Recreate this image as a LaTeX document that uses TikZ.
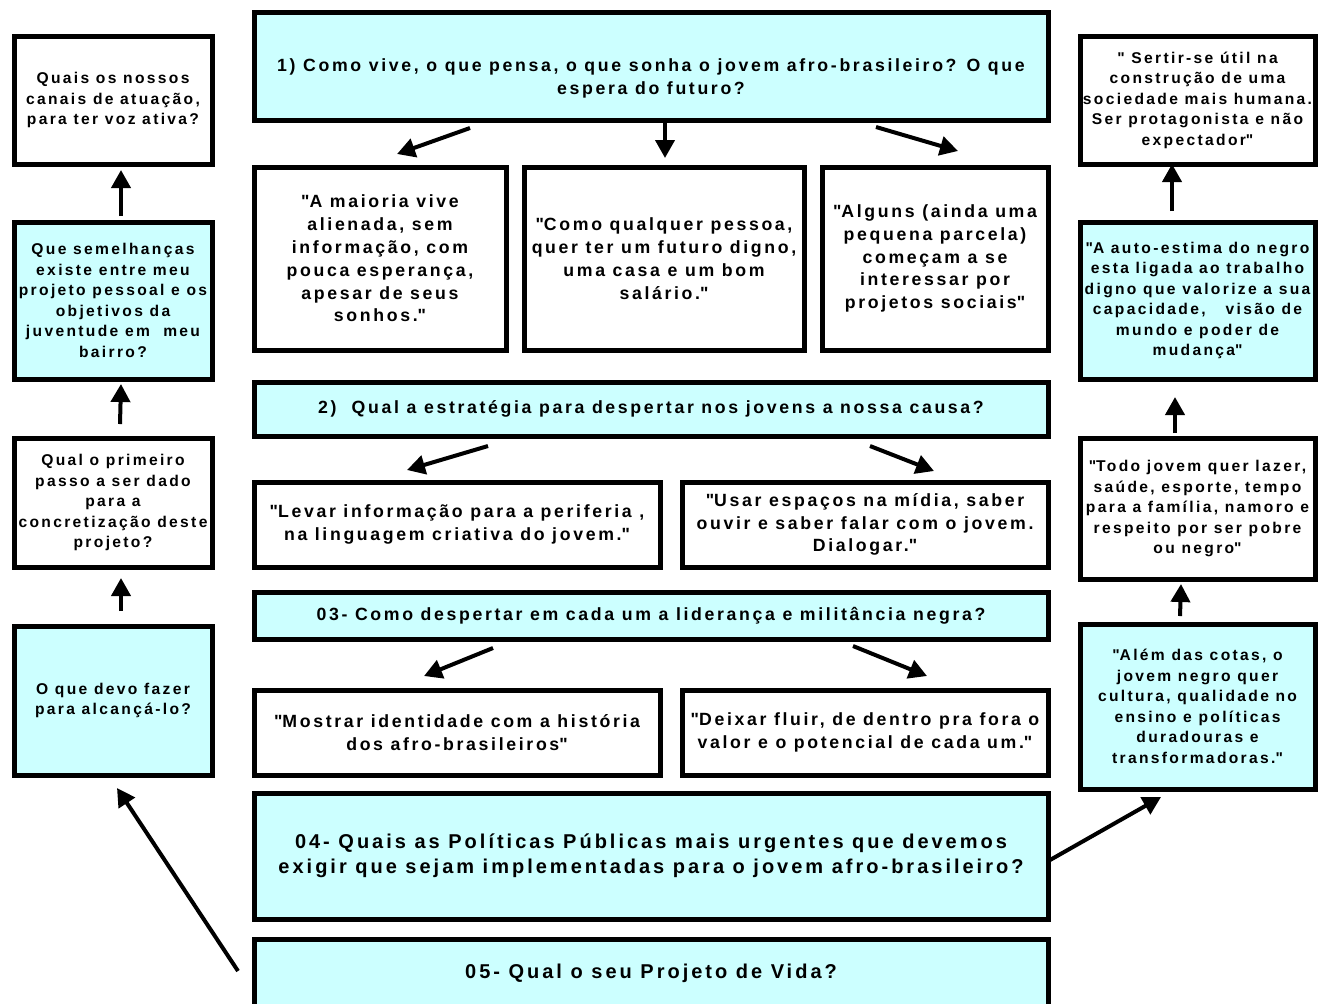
\documentclass[tikz,border=0pt]{standalone}
\usepackage{fontspec}
\setmainfont[LetterSpace=15]{Liberation Sans}
\usetikzlibrary{arrows.meta}
\definecolor{lcyan}{HTML}{CCFFFF}
\newcommand\bx[7]{\node[#2, minimum width=#5*0.5pt, minimum height=#6*0.5pt] (#1) at (#3,#4) {#7};}
\newcommand\sidefont{\bfseries\fontsize{7.8pt}{10.25pt}\selectfont}
\newcommand\cenfont{\bfseries\fontsize{8.85pt}{11.4pt}\selectfont}
\newcommand\bigfont{\bfseries\fontsize{10pt}{12.5pt}\selectfont}
\newcommand\qq{\textquotedbl}
\begin{document}
\begin{tikzpicture}[x=0.5pt,y=-0.5pt,
  base/.style={draw=black, line width=2.5pt, rectangle, inner sep=0pt, outer sep=0pt, align=center},
  wbox/.style={base, fill=white},
  cbox/.style={base, fill=lcyan},
  side/.style={font=\sidefont},
  cen/.style={font=\cenfont},
  big/.style={font=\bigfont},
  arr/.style={line width=2pt, -{Triangle[length=9pt,width=9.5pt]}},
  txt/.style={inner sep=0pt, align=center}]
\useasboundingbox (0,0) rectangle (1320,1003);
\fill[white] (0,0) rectangle (1320,1003);
% centre column
\bx{q1}{cbox}{651}{66}{794}{108}{}
\node[txt, cen] (q1t) at (651,78.5) {1) Como vive, o que pensa, o que sonha o jovem afro-brasileiro? O que\\espera do futuro?};
\bx{a1a}{wbox,cen}{380}{258.5}{252}{183}{\qq A maioria vive\\alienada, sem\\informação, com\\pouca esperança,\\apesar de seus\\sonhos.\qq}
\bx{a1b}{wbox,cen}{664}{258.5}{280}{183}{\qq Como qualquer pessoa,\\quer ter um futuro digno,\\uma casa e um bom\\salário.\qq}
\bx{a1c}{wbox,cen}{935}{258.5}{226}{183}{\qq Alguns (ainda uma\\pequena parcela)\\começam a se\\interessar por\\projetos sociais\qq}
\bx{q2}{cbox,cen}{651}{409}{794}{54}{2)\ \ Qual a estratégia para despertar nos jovens a nossa causa?}
\bx{a2a}{wbox,cen}{457}{524.5}{406}{85}{\qq Levar informação para a periferia ,\\na linguagem criativa do jovem.\qq}
\bx{a2b}{wbox,cen}{865}{524.5}{366}{85}{\qq Usar espaços na mídia, saber\\ouvir e saber falar com o jovem.\\Dialogar.\qq}
\bx{q3}{cbox,cen}{651}{615.5}{794}{47}{03- Como despertar em cada um a liderança e militância negra?}
\bx{a3a}{wbox,cen}{457}{732.5}{406}{85}{\qq Mostrar identidade com a história\\dos afro-brasileiros\qq}
\bx{a3b}{wbox,cen}{865}{732.5}{366}{85}{\qq Deixar fluir, de dentro pra fora o\\valor e o potencial de cada um.\qq}
\bx{q4}{cbox,big}{651}{856}{794}{126}{04- Quais as Políticas Públicas mais urgentes que devemos\\exigir que sejam implementadas para o jovem afro-brasileiro?}
\bx{q5}{cbox,big}{651}{973}{794}{68}{05- Qual o seu Projeto de Vida?}
% left column
\bx{l1}{wbox,side}{113}{100}{198}{128}{Quais os nossos\\canais de atuação,\\para ter voz ativa?}
\bx{l2}{cbox,side}{113}{300.5}{198}{157}{Que semelhanças\\existe entre meu\\projeto pessoal e os\\objetivos da\\juventude em\ \ meu\\bairro?}
\bx{l3}{wbox,side}{113}{502.5}{198}{129}{Qual o primeiro\\passo a ser dado\\para a\\concretização deste\\projeto?}
\bx{l4}{cbox,side}{113}{700.5}{198}{149}{O que devo fazer\\para alcançá-lo?}
% right column
\bx{r1}{wbox,side}{1197.5}{100}{235}{128}{\qq\ Sertir-se útil na\\construção de uma\\sociedade mais humana.\\Ser protagonista e não\\expectador\qq}
\bx{r2}{cbox,side}{1197.5}{300.5}{235}{157}{\qq A auto-estima do negro\\esta ligada ao trabalho\\digno que valorize a sua\\capacidade,\ \ \ visão de\\mundo e poder de\\mudança\qq}
\bx{r3}{wbox,side}{1197.5}{508.5}{235}{141}{\qq Todo jovem quer lazer,\\saúde, esporte, tempo\\para a família, namoro e\\respeito por ser pobre\\ou negro\qq}
\bx{r4}{cbox,side}{1197.5}{706.5}{235}{165}{\qq Além das cotas, o\\jovem negro quer\\cultura, qualidade no\\ensino e políticas\\duradouras e\\transformadoras.\qq}
% arrow end points
\coordinate (s1a) at (470,128); \coordinate (e1a) at (397,154);
\coordinate (s1b) at (665,122); \coordinate (e1b) at (665,158);
\coordinate (s1c) at (876,127); \coordinate (e1c) at (958,151);
\coordinate (s2a) at (488,446); \coordinate (e2a) at (407,470);
\coordinate (s2b) at (870,446); \coordinate (e2b) at (934,471);
\coordinate (s3a) at (493,648); \coordinate (e3a) at (424,676);
\coordinate (s3b) at (853,646); \coordinate (e3b) at (927,676);
\coordinate (sl2) at (121,216); \coordinate (el2) at (121,170);
\coordinate (sl3) at (120,424); \coordinate (el3) at (121,384);
\coordinate (sl4) at (121,611); \coordinate (el4) at (121,578);
\coordinate (s5) at (238,971); \coordinate (e5) at (117,788);
\coordinate (s4) at (1050,860); \coordinate (e4) at (1161,797);
\coordinate (sr4) at (1180,616); \coordinate (er4) at (1181,584);
\coordinate (sr3) at (1175,433); \coordinate (er3) at (1175,397);
\coordinate (sr2) at (1172,211); \coordinate (er2) at (1172,164);
\draw[arr] (s1a) -- (e1a);
\draw[arr] (s1b) -- (e1b);
\draw[arr] (s1c) -- (e1c);
\draw[arr] (s2a) -- (e2a);
\draw[arr] (s2b) -- (e2b);
\draw[arr] (s3a) -- (e3a);
\draw[arr] (s3b) -- (e3b);
\draw[arr] (sl2) -- (el2);
\draw[arr] (sl3) -- (el3);
\draw[arr] (sl4) -- (el4);
\draw[arr] (s5) -- (e5);
\draw[arr] (s4) -- (e4);
\draw[arr] (sr4) -- (er4);
\draw[arr] (sr3) -- (er3);
\draw[arr] (sr2) -- (er2);
\end{tikzpicture}
\end{document}
